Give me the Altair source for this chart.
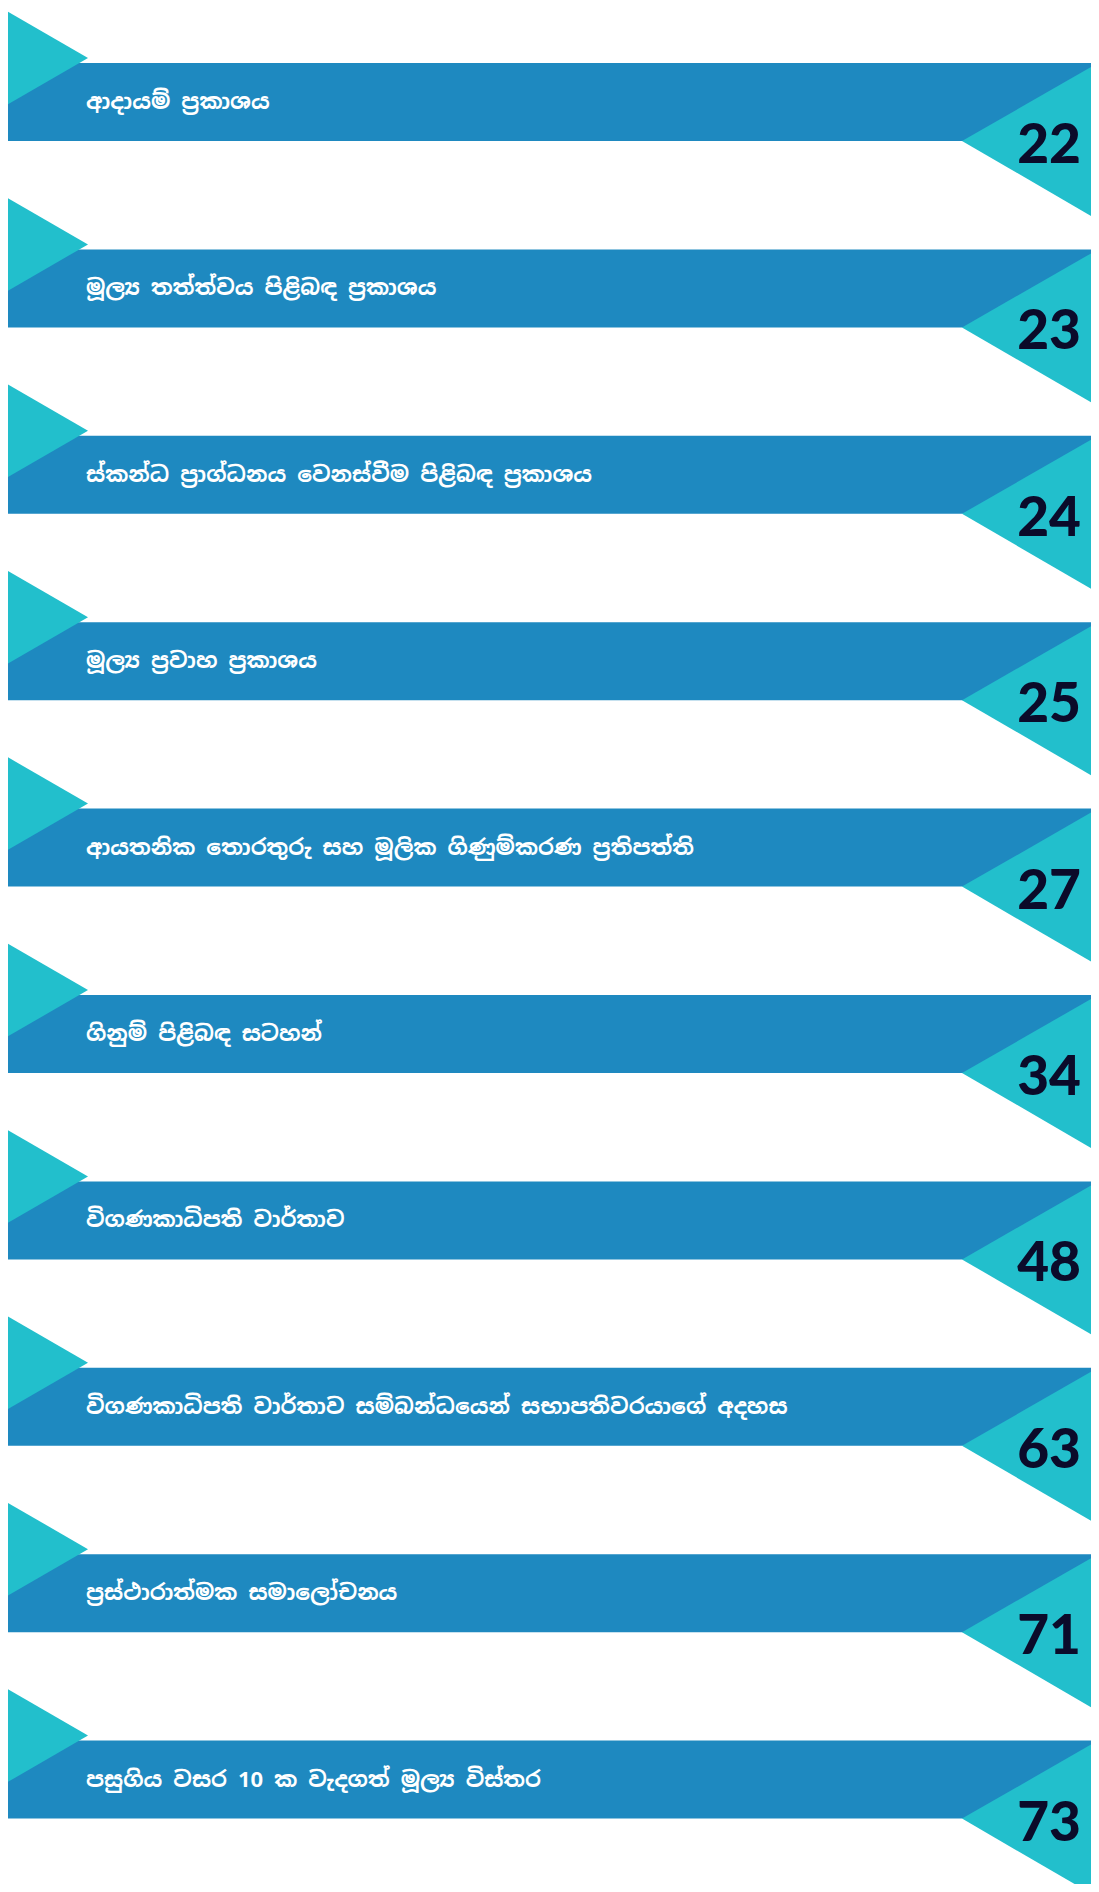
import altair as alt
import pandas as pd

titles = [
    "ආදායම් ප්‍රකාශය",
    "මූල්‍ය තත්ත්වය පිළිබඳ ප්‍රකාශය",
    "ස්කන්ධ ප්‍රාග්ධනය වෙනස්වීම පිළිබඳ ප්‍රකාශය",
    "මූල්‍ය ප්‍රවාහ ප්‍රකාශය",
    "ආයතනික තොරතුරු සහ මූලික ගිණුම්කරණ ප්‍රතිපත්ති",
    "ගිනුම් පිළිබඳ සටහන්",
    "විගණකාධිපති වාර්තාව",
    "විගණකාධිපති වාර්තාව සම්බන්ධයෙන් සභාපතිවරයාගේ අදහස",
    "ප්‍රස්ථාරාත්මක සමාලෝචනය",
    "පසුගිය වසර 10 ක වැදගත් මූල්‍ය විස්තර",
]
pages = ["22", "23", "24", "25", "27", "34", "48", "63", "71", "73"]

# layout (page-pixel coordinates)
W, H = 1083, 1876
PITCH = 186.4
TOP0 = 63.0
BAND_H = 78.0

band_rows, label_rows, tri_rows = [], [], []
for i, (t, p) in enumerate(zip(titles, pages)):
    top = TOP0 + PITCH * i
    bot = top + BAND_H
    band_rows.append({"row": i, "x": 5, "x2": 1099, "y": top, "y2": bot})
    label_rows.append({"row": i, "title": t, "page": p,
                       "lx": 86, "ly": top + 39, "px": 1081, "py": top + 100})
    # left triangle (two vertical edges of an area)
    tri_rows.append({"tri": f"L{i}", "x": 5, "y": top - 53, "y2": top + 43})
    tri_rows.append({"tri": f"L{i}", "x": 88, "y": top - 5, "y2": top - 5})
    # right triangle
    tri_rows.append({"tri": f"R{i}", "x": 962, "y": bot, "y2": bot})
    tri_rows.append({"tri": f"R{i}", "x": 1098, "y": top, "y2": top + 157})

bands = pd.DataFrame(band_rows)
labels = pd.DataFrame(label_rows)
tris = pd.DataFrame(tri_rows)

xs = alt.Scale(domain=[8, 8 + W], nice=False, zero=False)
ys = alt.Scale(domain=[8, 8 + H], nice=False, zero=False, reverse=True)

BAND = "#1e89c0"
TEAL = "#22bfcc"

band_layer = alt.Chart(bands).mark_rect(color=BAND).encode(
    x=alt.X("x:Q", scale=xs, axis=None),
    x2="x2:Q",
    y=alt.Y("y:Q", scale=ys, axis=None),
    y2="y2:Q",
)

tri_layer = alt.Chart(tris).mark_area(color=TEAL, orient="vertical", opacity=1).encode(
    x=alt.X("x:Q", scale=xs, axis=None),
    y=alt.Y("y:Q", scale=ys, axis=None),
    y2="y2:Q",
    detail="tri:N",
)

label_layer = alt.Chart(labels).mark_text(
    align="left", baseline="middle", color="white", fontSize=22, fontWeight="bold",
    font="Noto Sans Sinhala, Iskoola Pota, Noto Sans, sans-serif",
).encode(
    x=alt.X("lx:Q", scale=xs, axis=None),
    y=alt.Y("ly:Q", scale=ys, axis=None),
    text="title:N",
)

page_layer = alt.Chart(labels).mark_text(
    align="right", baseline="alphabetic", color="#0b0b2a", fontSize=55,
    font="Lato", fontWeight=900,
).encode(
    x=alt.X("px:Q", scale=xs, axis=None),
    y=alt.Y("py:Q", scale=ys, axis=None),
    text="page:N",
)

chart = alt.layer(band_layer, tri_layer, label_layer, page_layer).properties(
    width=W, height=H, padding=0, autosize=alt.AutoSizeParams(type="none"),
    background="white",
).configure_view(strokeWidth=0)

chart.save("out.html", embed_options={"renderer": "svg", "actions": False})
